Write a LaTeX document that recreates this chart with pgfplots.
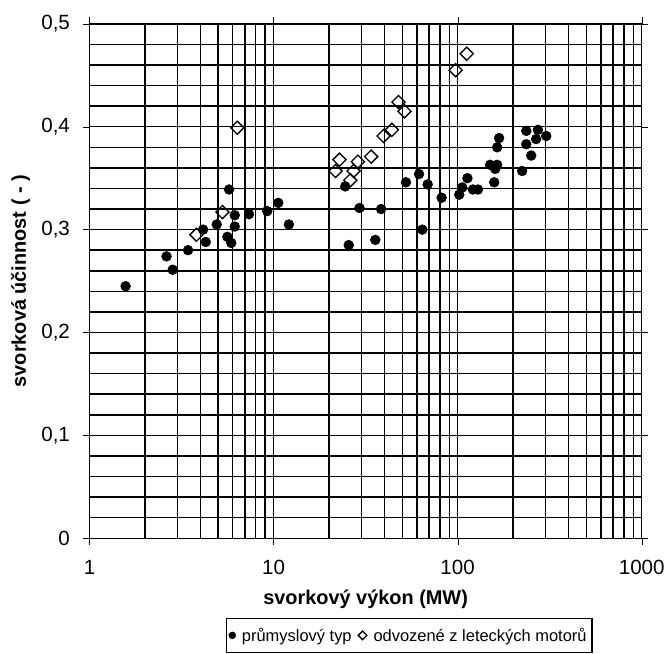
\documentclass[border=0pt]{standalone}
\usepackage{fontspec}
\setmainfont{Liberation Sans}
\usepackage{pgfplots}
\pgfplotsset{compat=1.18}

% filled circles: industrial type
\pgfplotstableread{
x y
1.57 0.245
2.62 0.274
2.83 0.261
3.43 0.280
4.14 0.300
4.28 0.288
4.91 0.305
5.61 0.293
5.73 0.339
5.89 0.287
6.15 0.314
6.15 0.303
7.35 0.315
9.23 0.318
10.6 0.326
12.1 0.305
24.5 0.342
25.6 0.285
29.3 0.321
35.7 0.290
38.4 0.320
52.4 0.346
61.7 0.354
64.3 0.300
68.7 0.344
81.8 0.331
102 0.334
106 0.341
113 0.350
121 0.339
129 0.339
150 0.363
158 0.346
160 0.359
164 0.363
164 0.380
168 0.389
224 0.357
236 0.383
236 0.396
251 0.372
267 0.388
273 0.397
303 0.391
}\prumysl

% open diamonds: aero-derivative
\pgfplotstableread{
x y
3.81 0.295
5.27 0.317
6.35 0.399
21.7 0.357
22.8 0.368
26.1 0.348
27.2 0.357
28.7 0.366
33.9 0.371
39.6 0.391
43.9 0.397
47.7 0.424
51.4 0.415
97.5 0.455
112 0.471
}\letecke

\begin{document}
\begin{tikzpicture}
\begin{axis}[
    name=ax,
    scale only axis,
    width=416.25pt, height=387.75pt,
    xmode=log, xmin=1, xmax=1000,
    ymin=0, ymax=0.5,
    xtick={1,10,100,1000},
    xticklabels={1,10,100,1000},
    ytick={0,0.1,0.2,0.3,0.4,0.5},
    yticklabels={0,{0,1},{0,2},{0,3},{0,4},{0,5}},
    minor ytick={0.02,0.04,0.06,0.08,0.12,0.14,0.16,0.18,0.22,0.24,0.26,0.28,0.32,0.34,0.36,0.38,0.42,0.44,0.46,0.48},
    grid=both,
    major grid style={black, line width=1.1pt},
    minor grid style={black, line width=1.1pt},
    axis line style={black, line width=1.1pt},
    tick align=outside,
    major tick length=5pt,
    minor tick length=0pt,
    tick style={black},
    tick label style={font=\fontsize{15.5}{18}\selectfont},
    xticklabel style={yshift=-8pt},
    yticklabel style={xshift=-6.3pt},
    xlabel={\bfseries svorkový výkon (MW)},
    ylabel={\bfseries svorková účinnost ( - )},
    label style={font=\fontsize{15}{18}\selectfont},
    xlabel style={at={(axis description cs:0.5,-0.0916)}, anchor=north},
    ylabel style={at={(axis description cs:-0.1508,0.5)}, rotate=0, anchor=north},
    legend style={at={(0.579,-0.1547)}, anchor=north, legend columns=-1,
        draw=black, line width=1pt, font=\fontsize{12.4}{15}\selectfont,
        inner xsep=2pt, inner ysep=5pt,
        /tikz/every even column/.append style={column sep=3pt},
        /tikz/every odd column/.append style={column sep=3pt}},
    legend cell align=left,
]
\addplot[only marks, mark=*, mark size=3.7pt, black,
    legend image post style={mark size=2.3pt}] table {\prumysl};
\addlegendentry{průmyslový typ}
\addplot[only marks, mark=square, mark size=3.5pt, black,
    mark options={rotate=45, fill=white, line width=1pt},
    legend image post style={mark size=2.3pt}] table {\letecke};
\addlegendentry{odvozené z leteckých motorů}
\end{axis}
\path (ax.south west) ++(-67.5pt,-87pt) rectangle ++(501.75pt,492.75pt);
\end{tikzpicture}
\end{document}
